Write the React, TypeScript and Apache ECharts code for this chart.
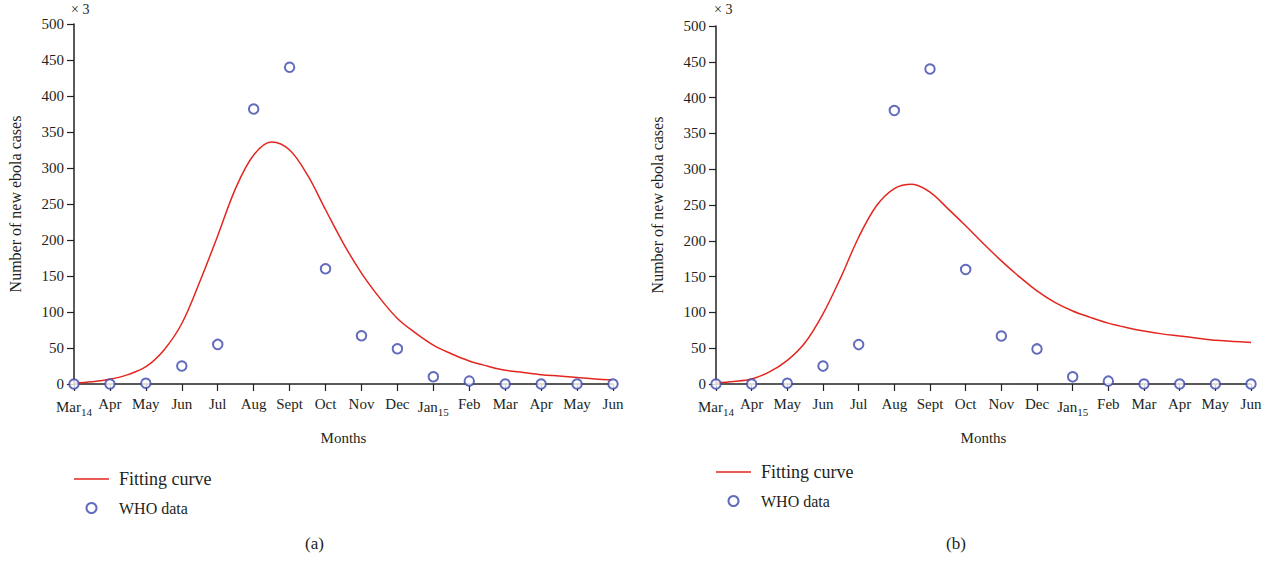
import React, { useEffect, useRef } from "react";
import * as echarts from "echarts";

const monthLabels = ["Mar", "Apr", "May", "Jun", "Jul", "Aug", "Sept", "Oct", "Nov", "Dec", "Jan", "Feb", "Mar", "Apr", "May", "Jun"];
const monthSubs: Record<number, string> = { 0: "14", 10: "15" };
const yTicks = [0, 50, 100, 150, 200, 250, 300, 350, 400, 450, 500];

const whoData = [0, 0, 1, 25, 55, 382, 440, 160, 67, 49, 10, 4, 0, 0, 0, 0];

// fitted curves read at half-month steps (month index 0 = Mar 2014)
const curveT = [0, 0.5, 1, 1.5, 2, 2.5, 3, 3.5, 4, 4.5, 5, 5.5, 6, 6.5, 7, 7.5, 8, 8.5, 9, 9.5, 10, 10.5, 11, 11.5, 12, 12.5, 13, 13.5, 14, 14.5, 15];
const curveAV = [1, 3, 6.5, 13, 24, 47, 84, 142, 206, 272, 318, 336, 325, 290, 242, 195, 154, 120, 91, 71, 54, 42, 32, 25, 19, 16, 13, 11, 9, 7, 5.5];
const curveBV = [1.5, 3.5, 7, 17, 33, 58, 98, 149, 205, 249, 273, 279, 268, 245, 221, 196, 172, 150, 130, 114, 102, 93, 85, 79, 74, 70, 67, 64, 61, 59.5, 58];

const FONT = "'Liberation Serif', 'DejaVu Serif', serif";
const TEXT = "#231f20";
const RED = "#e3261f";
const BLUE = "#3b47ad";

export default function App() {
  const ref = useRef<HTMLDivElement>(null);
  useEffect(() => {
    if (!ref.current) return;
    const chart = echarts.init(ref.current, null, { renderer: "svg" });

    const xAxisBase = (gridIndex: number) => ({
      type: "value" as const,
      gridIndex,
      min: 0,
      max: 15,
      interval: 1,
      name: "Months",
      nameLocation: "middle" as const,
      nameGap: 46,
      nameTextStyle: { fontFamily: FONT, fontSize: 15, color: TEXT },
      axisLine: { show: true, onZero: false, lineStyle: { color: "#222", width: 1.5 } },
      axisTick: { show: true, inside: false, length: 7, lineStyle: { color: "#222", width: 1.2 } },
      splitLine: { show: false },
      axisLabel: {
        margin: 12,
        fontFamily: FONT,
        fontSize: 15,
        color: TEXT,
        formatter: (v: number) => {
          const i = Math.round(v);
          const m = monthLabels[i] ?? "";
          return monthSubs[i] ? `{m|${m}}{s|${monthSubs[i]}}` : `{m|${m}}`;
        },
        rich: {
          m: { fontFamily: FONT, fontSize: 15, color: TEXT },
          s: { fontFamily: FONT, fontSize: 11, color: TEXT, padding: [10, 0, 0, 0] },
        },
      },
    });

    const yAxisBase = (gridIndex: number) => ({
      type: "value" as const,
      gridIndex,
      min: 0,
      max: 500,
      interval: 50,
      name: "Number of new ebola cases",
      nameLocation: "middle" as const,
      nameGap: 51,
      nameTextStyle: { fontFamily: FONT, fontSize: 16, color: TEXT },
      axisLine: { show: true, lineStyle: { color: "#222", width: 1.5 } },
      axisTick: { show: true, inside: false, length: 7, lineStyle: { color: "#222", width: 1.2 } },
      splitLine: { show: false },
      axisLabel: {
        margin: 10,
        fontFamily: FONT,
        fontSize: 15,
        color: TEXT,
        formatter: (v: number) => (yTicks.includes(v) ? String(v) : ""),
      },
    });

    const legendBase = (left: number, top: number) => ({
      orient: "vertical" as const,
      left,
      top,
      padding: 0,
      itemWidth: 35,
      itemHeight: 10,
      itemGap: 12,
      data: [
        {
          name: "Fitting curve",
          icon: "path://M0,0 L35,0 L35,1.5 L0,1.5 Z",
          itemStyle: { color: RED },
          textStyle: { fontFamily: FONT, fontSize: 18, color: TEXT, padding: [0, 0, 0, 5] },
        },
        {
          name: "WHO data",
          icon: "emptyCircle",
          textStyle: { fontFamily: FONT, fontSize: 16, color: TEXT, padding: [0, 0, 0, 5] },
        },
      ],
      textStyle: { fontFamily: FONT, color: TEXT },
    });

    const curve = (xi: number, vs: number[]) => ({
      name: "Fitting curve",
      type: "line" as const,
      xAxisIndex: xi,
      yAxisIndex: xi,
      data: curveT.map((t, i) => [t, vs[i]]),
      smooth: 0.35,
      showSymbol: false,
      symbol: "none",
      lineStyle: { color: RED, width: 1.5 },
      itemStyle: { color: RED },
      z: 2,
    });

    const scatter = (xi: number) => ({
      name: "WHO data",
      type: "scatter" as const,
      xAxisIndex: xi,
      yAxisIndex: xi,
      data: whoData.map((v, i) => [i, v]),
      symbol: "emptyCircle",
      symbolSize: 9.5,
      itemStyle: { color: BLUE, borderColor: BLUE, borderWidth: 1.5 },
      z: 3,
    });

    chart.setOption({
      animation: false,
      backgroundColor: "#fff",
      grid: [
        { left: 74, top: 24, width: 539, height: 360, containLabel: false },
        { left: 716, top: 26, width: 535, height: 358, containLabel: false },
      ],
      xAxis: [xAxisBase(0), xAxisBase(1)],
      yAxis: [yAxisBase(0), yAxisBase(1)],
      legend: [legendBase(74, 470), legendBase(716, 463)],
      series: [curve(0, curveAV), scatter(0), curve(1, curveBV), scatter(1)],
      graphic: [
        { type: "text", left: 71, top: 2, style: { text: "× 3", fontFamily: FONT, fontSize: 14, fill: TEXT } },
        { type: "text", left: 714, top: 2, style: { text: "× 3", fontFamily: FONT, fontSize: 14, fill: TEXT } },
        { type: "text", left: 305, top: 535, style: { text: "(a)", fontFamily: FONT, fontSize: 17, fill: TEXT } },
        { type: "text", left: 946, top: 535, style: { text: "(b)", fontFamily: FONT, fontSize: 17, fill: TEXT } },
      ],
    });
    return () => chart.dispose();
  }, []);
  return <div ref={ref} style={{ position: "fixed", left: 0, top: 0, width: 1281, height: 563, background: "#fff" }} />;
}
